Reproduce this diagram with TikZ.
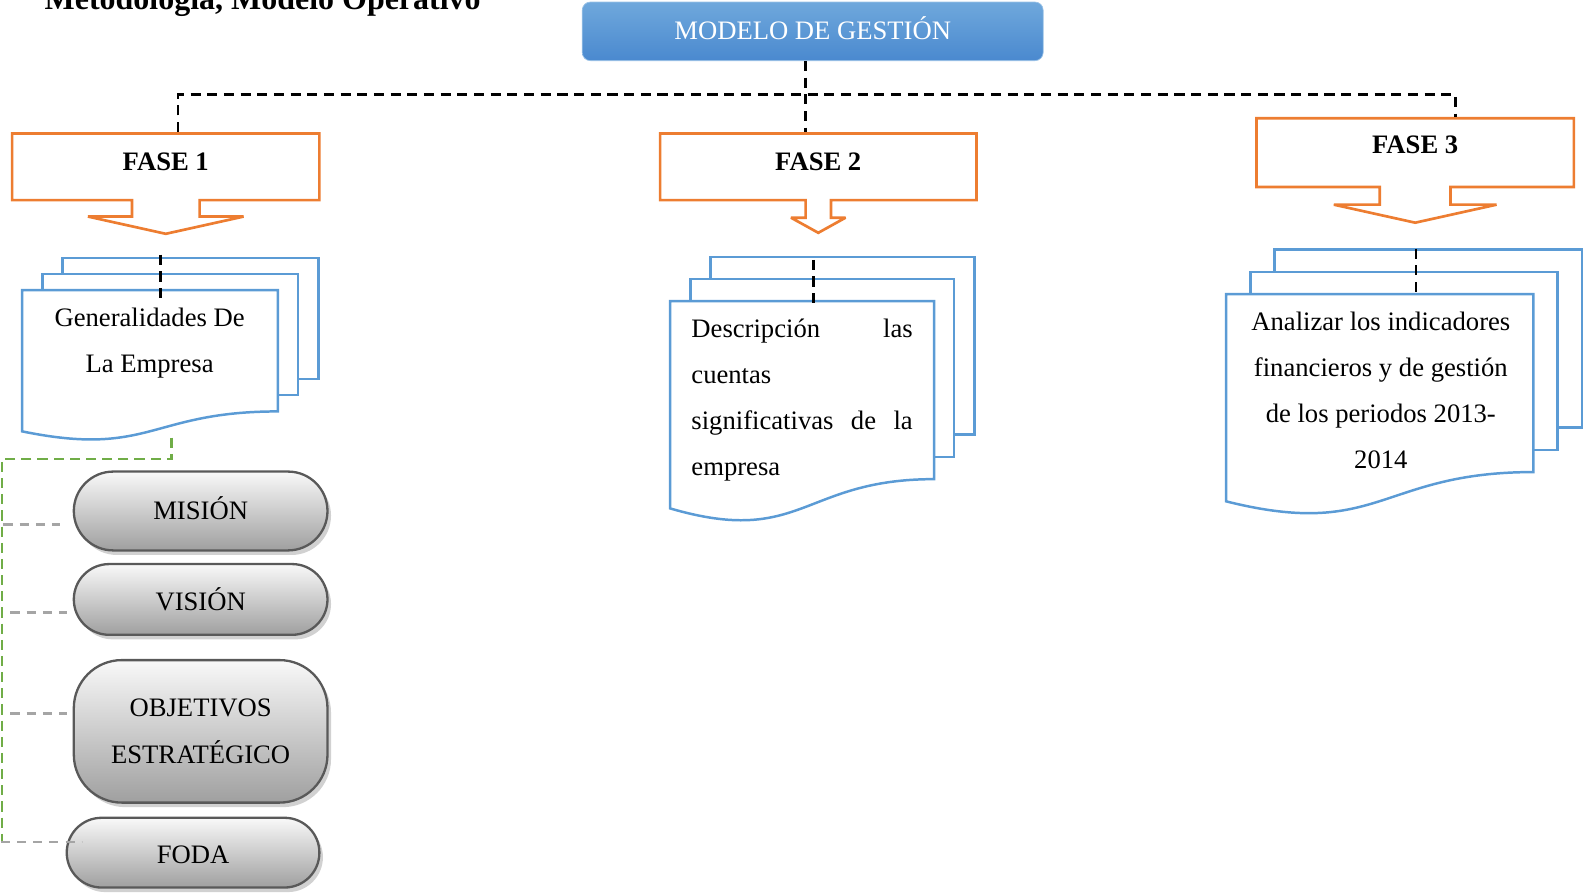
\documentclass[tikz,border=0pt]{standalone}
\usepackage{fontspec}
\setmainfont{Liberation Serif}
\usetikzlibrary{shapes.arrows,shadows,positioning}

\definecolor{naranja}{HTML}{ED7D31}
\definecolor{azuldoc}{HTML}{5B9BD5}
\definecolor{verde}{HTML}{70AD47}
\definecolor{grisrama}{HTML}{A5A5A5}
\definecolor{grisborde}{HTML}{595959}
\definecolor{azulA}{HTML}{6FA8DC}
\definecolor{azulB}{HTML}{4A89CF}

\begin{document}
\begin{tikzpicture}[x=0.02cm,y=-0.02cm,
    texto/.style={font=\fontsize{15}{26}\selectfont},
    modelo/.style={rounded corners=0.16cm,draw=azulA!70!white,top color=azulA,bottom color=azulB,
        text=white,minimum width=9.12cm,minimum height=1.16cm,text depth=0.12cm,
        font=\fontsize{15}{18}\selectfont},
    fase/.style={shape=arrow box,draw=naranja,line width=1.5pt,miter limit=2,fill=white,
        font=\fontsize{15}{18}\selectfont\bfseries,minimum height=1.32cm,text depth=0.22cm,
        arrow box north arrow=-1cm,arrow box east arrow=-1cm,arrow box west arrow=-1cm},
    hoja/.style={draw=azuldoc,line width=1.4pt},
    pastilla/.style={texto,draw=grisborde,line width=1.3pt,top color=gray!5,bottom color=gray!75,
        minimum width=5.02cm,align=center,
        drop shadow={shadow xshift=0.07cm,shadow yshift=-0.09cm,fill=black!30,opacity=0.6}},
    enlace/.style={dash pattern=on 0.2cm off 0.13cm,line width=1.4pt},
    verdel/.style={draw=verde,dash pattern=on 0.2cm off 0.12cm,line width=1.6pt},
    rama/.style={draw=grisrama,dash pattern=on 0.18cm off 0.14cm,line width=1.6pt}]

\useasboundingbox (0,0) rectangle (1568,886);

\node[anchor=base west,font=\fontsize{18}{20}\selectfont\bfseries] (titulo) at (38,9) {Metodología, Modelo Operativo};

\node[modelo] (mg) at (804,31) {MODELO DE GESTIÓN};

% fases
\node[fase,minimum width=6.08cm,arrow box shaft width=1.34cm,arrow box head extend=0.87cm,
    arrow box tip angle=155,arrow box south arrow=0.64cm] (f1) at (164,165) {FASE 1};
\node[fase,minimum width=6.26cm,arrow box shaft width=0.5cm,arrow box head extend=0.29cm,
    arrow box tip angle=122,arrow box south arrow=0.62cm] (f2) at (809.5,165) {FASE 2};
\node[fase,minimum width=6.28cm,minimum height=1.36cm,text depth=0.3cm,arrow box shaft width=1.4cm,
    arrow box head extend=0.91cm,arrow box tip angle=155,arrow box south arrow=0.68cm] (f3) at (1400,151) {FASE 3};

\draw[enlace] ([xshift=-0.14cm]mg.south) -- ([xshift=-0.14cm]mg.south |- f2.north);
\draw[enlace] ([xshift=0.24cm]f1.north) -- ++(0,-37) -| ([xshift=0.8cm]f3.north);

% documentos
\foreach \lx/\ty/\rx/\by/\ox/\oy in {22/287/275/407/20/16, 663/298/924/474/20/22, 1213/291/1517/467/24/22}{
    \draw[hoja] (\lx,\ty) -- (\rx,\ty) -- (\rx,\by)
        .. controls ({(\lx+\rx)/2},\by) and ({(\lx+\rx)/2},{\ty+1.381*(\by-\ty)}) ..
        (\lx,{\ty+1.1646*(\by-\ty)}) -- cycle;
    \foreach \k in {1,2}
        \draw[hoja] ({\lx+\k*\ox},{\ty-(\k-1)*\oy}) |- ({\rx+\k*\ox},{\ty-\k*\oy})
            |- ({\rx+(\k-1)*\ox},{\by-\k*\oy});
}
\foreach \cx/\ca/\cb in {159/252/299, 805/257/303, 1401/246/292}
    \draw[enlace] (\cx,\ca) -- (\cx,\cb);

\node[texto,align=center] (gen) at (148,339) {Generalidades De\\La Empresa};
\node[texto,text width=4.38cm,align=left] (desc) at (793.5,396)
    {Descripción\hfill las\\cuentas\\significativas\hfill de\hfill la\\empresa};
\node[texto,align=center] (ana) at (1366,386)
    {Analizar los indicadores\\financieros y de gestión\\de los periodos 2013-\\2014};

% elementos de la empresa
\node[pastilla,minimum height=1.56cm,rounded corners=0.78cm,text depth=0.1cm] (mis) at (198.5,505.5) {MISIÓN};
\node[pastilla,minimum height=1.4cm,rounded corners=0.7cm] (vis) at (198.5,593) {VISIÓN};
\node[pastilla,minimum height=2.82cm,rounded corners=0.95cm] (obj) at (198.5,723.5) {OBJETIVOS\\ESTRATÉGICO};
\node[pastilla,minimum width=5cm,minimum height=1.38cm,rounded corners=0.69cm,text height=0.45cm] (foda) at (191,843.5) {FODA};

\coordinate (v0) at (170,433);
\coordinate (v1) at (2,833);
\draw[verdel] (v0) -- ++(0,21) -| (v1);
\draw[rama] ([shift={(-68.5,13.5)}]mis.west) -- ([shift={(-12.5,13.5)}]mis.west);
\draw[rama] ([shift={(-61.5,13)}]vis.west) -- ([shift={(-5.5,13)}]vis.west);
\draw[rama] ([shift={(-61.5,-17.5)}]obj.west) -- ([shift={(-5.5,-17.5)}]obj.west);
\draw[rama] ([shift={(-64,-10.5)}]foda.west) -- ([shift={(16,-10.5)}]foda.west);
\end{tikzpicture}
\end{document}
